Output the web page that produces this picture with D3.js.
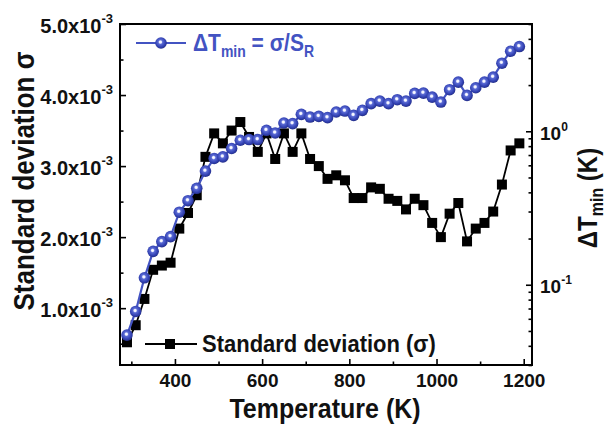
<!DOCTYPE html>
<html>
<head>
<meta charset="utf-8">
<script src="https://cdn.jsdelivr.net/npm/d3@7"></script>
<style>
  html, body { margin: 0; padding: 0; background: #fff; }
  svg text { font-family: "Liberation Sans", Arial, sans-serif; font-weight: bold; }
</style>
</head>
<body>
<div id="chart"></div>
<script>
// temperature (K)
var temps = [290, 310, 330, 350, 370, 390, 410, 430, 450, 470, 490, 510, 530, 550, 570, 590,
  610, 630, 650, 670, 690, 710, 730, 750, 770, 790, 810, 830, 850, 870, 890, 910, 930, 950,
  970, 990, 1010, 1030, 1050, 1070, 1090, 1110, 1130, 1150, 1170, 1190];
// standard deviation sigma, in units of 1e-3 (left axis)
var sigma = [0.52, 0.76, 1.13, 1.54, 1.60, 1.64, 2.12, 2.34, 2.59, 3.13, 3.46, 3.32, 3.50, 3.62,
  3.41, 3.20, 3.46, 3.10, 3.46, 3.20, 3.46, 3.10, 3.00, 2.82, 2.87, 2.80, 2.55, 2.55, 2.70,
  2.68, 2.54, 2.51, 2.39, 2.54, 2.45, 2.20, 2.00, 2.33, 2.48, 1.94, 2.12, 2.20, 2.36, 2.74,
  3.22, 3.32];
// delta T min = sigma / S_R, in K (right log axis)
var dTmin = [0.047, 0.067, 0.111, 0.165, 0.191, 0.206, 0.297, 0.353, 0.425, 0.550, 0.665,
  0.681, 0.772, 0.874, 0.883, 0.883, 1.015, 0.975, 1.132, 1.122, 1.289, 1.238, 1.251, 1.227,
  1.335, 1.354, 1.270, 1.369, 1.513, 1.573, 1.513, 1.606, 1.573, 1.765, 1.773, 1.670, 1.550,
  1.866, 2.090, 1.713, 1.921, 2.090, 2.252, 2.777, 3.322, 3.564];

var tempTicks = [400, 600, 800, 1000, 1200];
var tempMinor = [300, 500, 700, 900, 1100];
var sigmaTicks = [1.0, 2.0, 3.0, 4.0, 5.0];
var sigmaMinor = [0.5, 1.5, 2.5, 3.5, 4.5];
var dtTicks = [0.1, 1];
var dtMinor = [0.03, 0.04, 0.05, 0.06, 0.07, 0.08, 0.09, 0.2, 0.3, 0.4, 0.5, 0.6, 0.7, 0.8, 0.9, 2, 3, 4, 5];
var dtTickLabels = ["-1", "0"];

(function () {
  var width = 609, height = 425;
  var left = 120, right = 532, top = 24, bottom = 365;
  var blue = "#4353c2", stretch = 1.12;

  var svg = d3.select("#chart").append("svg")
    .attr("width", width)
    .attr("height", height)
    .attr("viewBox", "0 0 " + width + " " + height);

  var grad = svg.append("defs").append("radialGradient")
    .attr("id", "ball").attr("cx", "45%").attr("cy", "42%").attr("r", "60%");
  grad.append("stop").attr("offset", "0%").attr("stop-color", "#ffffff");
  grad.append("stop").attr("offset", "16%").attr("stop-color", "#eef0ff");
  grad.append("stop").attr("offset", "32%").attr("stop-color", "#5a6ad4");
  grad.append("stop").attr("offset", "72%").attr("stop-color", "#3241b2");
  grad.append("stop").attr("offset", "100%").attr("stop-color", "#232d84");

  var x = d3.scaleLinear().domain([274, 1219]).range([left, right]);
  var yL = d3.scaleLinear().domain([0.2, 5.0]).range([bottom, top]);
  var yR = d3.scaleLog().domain([0.03, 5]).range([bottom, top]);

  // axes, ticks pointing inward
  function styleAxis(g) {
    g.select(".domain").remove();
    g.selectAll("line").attr("stroke", "#000").attr("stroke-width", 1.6);
  }

  svg.append("g").attr("transform", "translate(0," + bottom + ")")
    .call(d3.axisBottom(x).tickValues(tempMinor).tickSize(-3.5).tickFormat(""))
    .call(styleAxis);
  var xa = svg.append("g").attr("transform", "translate(0," + bottom + ")")
    .call(d3.axisBottom(x).tickValues(tempTicks).tickSize(-6).tickPadding(9).tickFormat(d3.format("d")))
    .call(styleAxis);
  xa.selectAll("text").attr("font-size", 19).attr("fill", "#111");

  svg.append("g").attr("transform", "translate(" + left + ",0)")
    .call(d3.axisLeft(yL).tickValues(sigmaMinor).tickSize(-3.5).tickFormat(""))
    .call(styleAxis);
  var ya = svg.append("g").attr("transform", "translate(" + left + ",0)")
    .call(d3.axisLeft(yL).tickValues(sigmaTicks).tickSize(-6).tickFormat(""))
    .call(styleAxis);
  ya.selectAll(".tick").append("text")
    .attr("x", -7).attr("dy", "0.42em").attr("text-anchor", "end")
    .attr("font-size", 20).attr("fill", "#111")
    .each(function (d) {
      var t = d3.select(this);
      t.append("tspan").text(d.toFixed(1) + "x10");
      t.append("tspan").attr("font-size", 13).attr("dy", "-0.75em").text("-3");
    });

  svg.append("g").attr("transform", "translate(" + right + ",0)")
    .call(d3.axisRight(yR).tickValues(dtMinor).tickSize(-3.5).tickFormat(""))
    .call(styleAxis);
  var yra = svg.append("g").attr("transform", "translate(" + right + ",0)")
    .call(d3.axisRight(yR).tickValues(dtTicks).tickSize(-6).tickFormat(""))
    .call(styleAxis);
  yra.selectAll(".tick").append("text")
    .attr("x", 8).attr("dy", "0.42em").attr("text-anchor", "start")
    .attr("font-size", 19).attr("fill", "#111")
    .each(function (d, i) {
      var t = d3.select(this);
      t.append("tspan").text("10");
      t.append("tspan").attr("font-size", 12).attr("dy", "-0.75em").text(dtTickLabels[i]);
    });

  svg.append("rect")
    .attr("x", left).attr("y", top)
    .attr("width", right - left).attr("height", bottom - top)
    .attr("fill", "none").attr("stroke", "#000").attr("stroke-width", 2);

  // standard deviation series
  var lineS = d3.line().x(function (d, i) { return x(temps[i]); }).y(function (d) { return yL(d); });
  svg.append("path").datum(sigma)
    .attr("d", lineS).attr("fill", "none").attr("stroke", "#000").attr("stroke-width", 1.8);
  svg.selectAll(".sq").data(sigma).enter().append("rect")
    .attr("class", "sq")
    .attr("x", function (d, i) { return x(temps[i]) - 5; })
    .attr("y", function (d) { return yL(d) - 5; })
    .attr("width", 10).attr("height", 10).attr("fill", "#000");

  // delta T min series
  var lineT = d3.line().x(function (d, i) { return x(temps[i]); }).y(function (d) { return yR(d); });
  svg.append("path").datum(dTmin)
    .attr("d", lineT).attr("fill", "none").attr("stroke", blue).attr("stroke-width", 2.2);
  svg.selectAll(".ball").data(dTmin).enter().append("circle")
    .attr("class", "ball")
    .attr("cx", function (d, i) { return x(temps[i]); })
    .attr("cy", function (d) { return yR(d); })
    .attr("r", 5.8).attr("fill", "url(#ball)");

  // legends
  svg.append("line").attr("x1", 136).attr("x2", 186).attr("y1", 43).attr("y2", 43)
    .attr("stroke", blue).attr("stroke-width", 2.2);
  svg.append("circle").attr("cx", 161).attr("cy", 43).attr("r", 5.8).attr("fill", "url(#ball)");
  var lt = svg.append("text").attr("transform", "translate(193,51) scale(1," + stretch + ")")
    .attr("font-size", 21).attr("fill", blue);
  lt.append("tspan").text("\u0394T");
  lt.append("tspan").attr("font-size", 14).attr("dy", 5).text("min");
  lt.append("tspan").attr("dy", -5).text(" = \u03c3/S");
  lt.append("tspan").attr("font-size", 14).attr("dy", 5).text("R");

  svg.append("line").attr("x1", 145).attr("x2", 197).attr("y1", 344).attr("y2", 344)
    .attr("stroke", "#000").attr("stroke-width", 1.8);
  svg.append("rect").attr("x", 165).attr("y", 339).attr("width", 10).attr("height", 10).attr("fill", "#000");
  svg.append("text").attr("transform", "translate(202,352) scale(1," + stretch + ")")
    .attr("font-size", 22).attr("fill", "#111")
    .text("Standard deviation (\u03c3)");

  // axis titles
  svg.append("text").attr("transform", "translate(325,418) scale(1," + stretch + ")")
    .attr("text-anchor", "middle").attr("font-size", 25).attr("fill", "#111")
    .text("Temperature (K)");

  svg.append("text").attr("transform", "translate(34,181) rotate(-90) scale(1," + stretch + ")")
    .attr("text-anchor", "middle").attr("font-size", 26).attr("fill", "#111")
    .text("Standard deviation \u03c3");

  var rt = svg.append("text").attr("transform", "translate(597,198) rotate(-90) scale(1," + stretch + ")")
    .attr("text-anchor", "middle").attr("font-size", 24).attr("fill", "#111");
  rt.append("tspan").text("\u0394T");
  rt.append("tspan").attr("font-size", 16).attr("dy", 5).text("min");
  rt.append("tspan").attr("dy", -5).text(" (K)");
}());
</script>
</body>
</html>
